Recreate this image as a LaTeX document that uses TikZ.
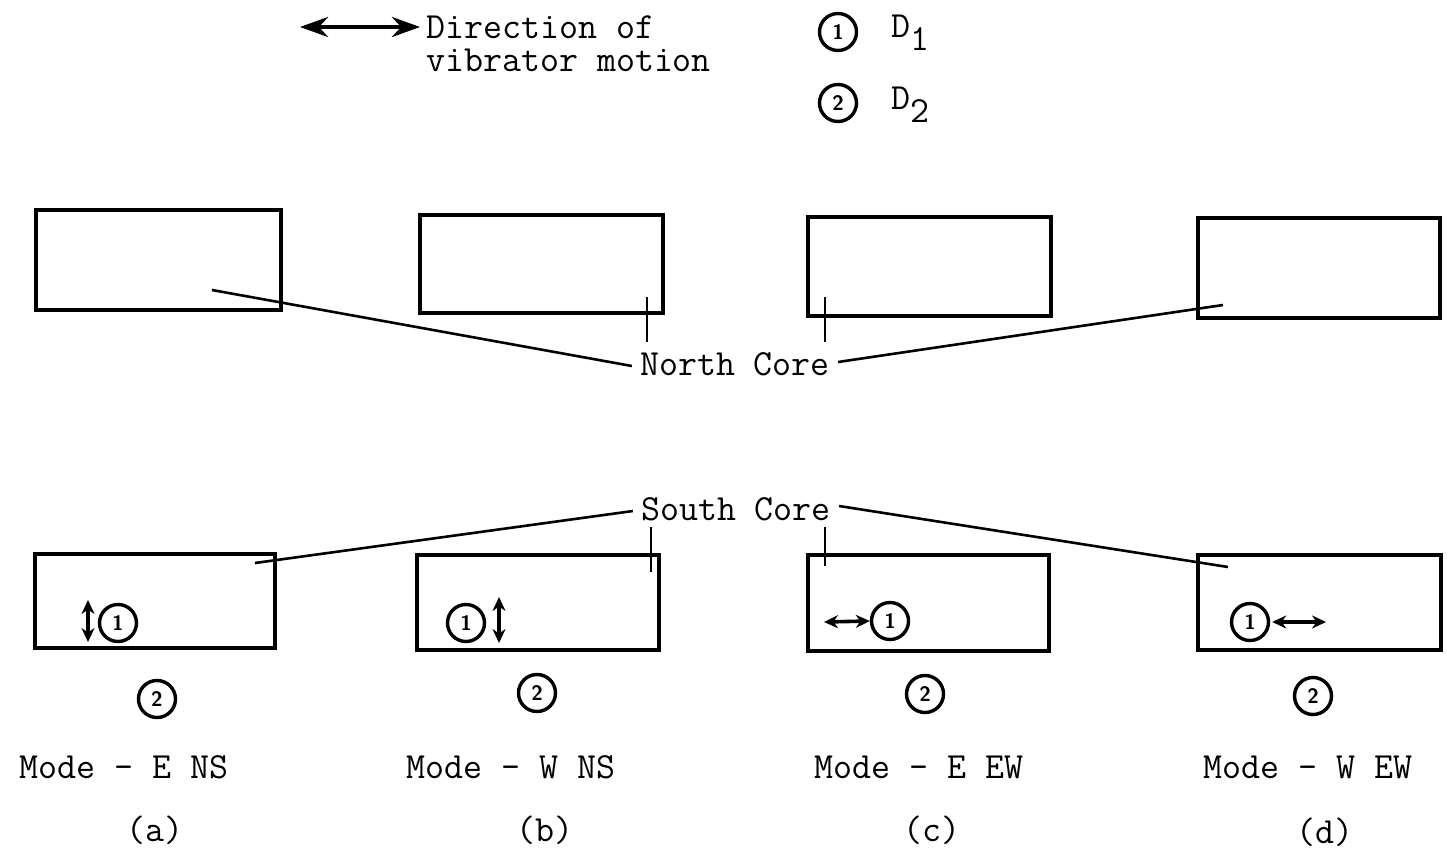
\documentclass[tikz,border=0pt]{standalone}
\usetikzlibrary{arrows.meta}
\begin{document}
\begin{tikzpicture}[x=1bp,y=-1bp,
  box/.style={draw, line width=3.2bp, inner sep=0pt},
  num/.style={circle, draw, line width=3.4bp, minimum size=37bp, inner sep=0pt, font=\sffamily\bfseries\fontsize{21}{21}\selectfont},
  lbl/.style={font=\ttfamily\fontsize{37}{37}\selectfont, inner sep=0pt},
  lead/.style={line width=2.6bp},
  vib/.style={line width=3.6bp, {Stealth[length=14bp,width=13bp]}-{Stealth[length=14bp,width=13bp]}},
  legarrow/.style={line width=4.5bp, {Stealth[length=28bp,width=20bp]}-{Stealth[length=28bp,width=20bp]}},
]
\useasboundingbox (0,0) rectangle (1447,858);

% legend
\coordinate (la1) at (300,27);
\coordinate (la2) at (420,27);
\draw[legarrow] (la1) -- (la2);
\node[lbl, anchor=west, align=left, font=\ttfamily\fontsize{37}{33}\selectfont] (legtxt) at (426,44) {Direction of\\vibrator motion};
\node[num] (l1) at (838,32) {1};
\node[num] (l2) at (838,103) {2};
\node[lbl, anchor=west] (ld1) at (891,33) {D\raisebox{-13bp}{1}};
\node[lbl, anchor=west] (ld2) at (891,105) {D\raisebox{-13bp}{2}};

% top boxes
\node[box, minimum width=245bp, minimum height=100bp] (ta) at (158.5,260) {};
\node[box, minimum width=243bp, minimum height=98bp] (tb) at (541.5,264) {};
\node[box, minimum width=243bp, minimum height=99bp] (tc) at (929.5,266.5) {};
\node[box, minimum width=242bp, minimum height=100bp] (td) at (1319,268) {};

% bottom boxes
\node[box, minimum width=240bp, minimum height=94bp] (ba) at (155,601) {};
\node[box, minimum width=242bp, minimum height=95bp] (bb) at (538,602.5) {};
\node[box, minimum width=241bp, minimum height=96bp] (bc) at (928.5,603) {};
\node[box, minimum width=243bp, minimum height=95bp] (bd) at (1319.5,602.5) {};

% core labels
\node[lbl] (nc) at (735,364) {North Core};
\node[lbl] (sc) at (736,509) {South Core};

% north leaders
\coordinate (na) at (212,290);
\coordinate (nd) at (1223,305);
\coordinate (nb1) at (647,297); \coordinate (nb2) at (647,342);
\coordinate (nc1) at (825,297); \coordinate (nc2) at (825,342);
\draw[lead] (na) -- ([xshift=-8bp,yshift=-2bp]nc.west);
\draw[lead] ([xshift=8bp,yshift=2bp]nc.east) -- (nd);
\draw[lead] (nb1) -- (nb2);
\draw[lead] (nc1) -- (nc2);

% south leaders
\coordinate (sa) at (255,563);
\coordinate (sd) at (1228,567);
\coordinate (sb1) at (651,527); \coordinate (sb2) at (651,572);
\coordinate (sc1) at (825,527); \coordinate (sc2) at (825,566);
\draw[lead] (sa) -- ([xshift=-8bp,yshift=-2bp]sc.west);
\draw[lead] ([xshift=8bp,yshift=3bp]sc.east) -- (sd);
\draw[lead] (sb1) -- (sb2);
\draw[lead] (sc1) -- (sc2);

% detectors 1 with vibrator arrows
\node[num] (a1) at (118,623) {1};
\coordinate (av1) at (88,600); \coordinate (av2) at (88,642);
\draw[vib] (av1) -- (av2);
\node[num] (b1) at (466,623) {1};
\coordinate (bv1) at (499,597); \coordinate (bv2) at (499,643);
\draw[vib] (bv1) -- (bv2);
\node[num] (c1) at (890,621) {1};
\coordinate (cv1) at (824,622);
\draw[vib] (cv1) -- (c1.west);
\node[num] (d1) at (1250,622) {1};
\coordinate (dv2) at (1326,622);
\draw[vib] ([xshift=2bp]d1.east) -- (dv2);

% detectors 2
\node[num] (a2) at (157,699) {2};
\node[num] (b2) at (537,693) {2};
\node[num] (c2) at (925,694) {2};
\node[num] (d2) at (1313,696) {2};

% mode labels
\node[lbl] (ma) at (124,767) {Mode - E NS};
\node[lbl] (mb) at (511,767) {Mode - W NS};
\node[lbl] (mc) at (919,767) {Mode - E EW};
\node[lbl] (md) at (1308,767) {Mode - W EW};
\node[lbl] (pa) at (155,830) {(a)};
\node[lbl] (pb) at (545,830) {(b)};
\node[lbl] (pc) at (932,830) {(c)};
\node[lbl] (pd) at (1325,832) {(d)};
\end{tikzpicture}
\end{document}
